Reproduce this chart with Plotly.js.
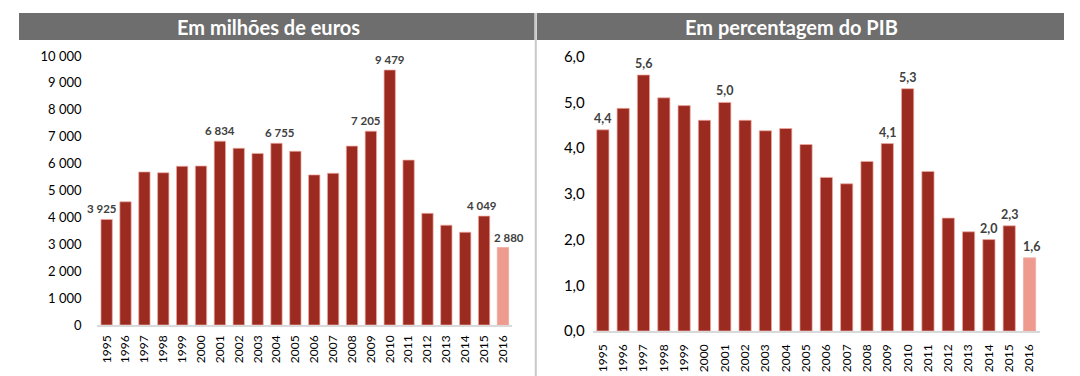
<!DOCTYPE html>
<html>
<head>
<meta charset="utf-8">
<script src="https://cdn.plot.ly/plotly-3.0.1.min.js"></script>
<style>html,body{margin:0;padding:0;background:#fff;}#chart{width:1080px;height:376px;}</style>
</head>
<body>
<div id="chart"></div>
<script>
const years = ['1995','1996','1997','1998','1999','2000','2001','2002','2003','2004','2005','2006','2007','2008','2009','2010','2011','2012','2013','2014','2015','2016'];
const eurosMillions = [3925,4580,5690,5660,5900,5910,6834,6570,6380,6755,6460,5580,5640,6650,7205,9479,6130,4150,3710,3450,4049,2880];
const pctGDP = [4.4,4.87,5.6,5.10,4.93,4.61,5.0,4.61,4.38,4.43,4.08,3.36,3.22,3.71,4.1,5.3,3.49,2.47,2.17,2.0,2.3,1.6];
const eurosLabels = ['3 925','','','','','','6 834','','','6 755','','','','','7 205','9 479','','','','','4 049','2 880'];
const pctLabels = ['4,4','','5,6','','','','5,0','','','','','','','','4,1','5,3','','','','2,0','2,3','1,6'];
const titleLeft = 'Em milhões de euros';
const titleRight = 'Em percentagem do PIB';

const dark = '#9b2b20';
const light = '#ee9a8f';
const colors = years.map((y, i) => i === years.length - 1 ? light : dark);
const FONT = 'Lato, "Open Sans", sans-serif';

// horizontal nudges of a few value labels (pixels), as in the original layout
const leftNudge = {'1995': -5, '2004': 4, '2009': -5, '2015': -2, '2016': 6};
const rightNudge = {'2016': 1.5};

function barTrace(vals, xa, ya) {
  return {
    type: 'bar', x: years, y: vals, xaxis: xa, yaxis: ya,
    width: 0.6,
    marker: {color: colors, line: {color: 'rgba(240,170,160,0.9)', width: 0.8}},
    hoverinfo: 'x+y', showlegend: false
  };
}

function labelAnnotations(vals, labels, xa, ya, size, nudge, lift) {
  const out = [];
  labels.forEach((t, i) => {
    if (!t) return;
    out.push({
      xref: xa, yref: ya, x: i, y: vals[i], text: t, showarrow: false,
      xanchor: 'center', yanchor: 'bottom', xshift: nudge[years[i]] || 0, yshift: lift,
      font: {family: FONT, size: size, color: '#404040', weight: 'bold'}
    });
  });
  return out;
}

const data = [
  barTrace(eurosMillions, 'x', 'y'),
  barTrace(pctGDP, 'x2', 'y2')
];

const W = 1080, H = 376;
const px = v => v / W, py = v => 1 - v / H;

const xBase = {
  type: 'category', showgrid: false, zeroline: false,
  categoryorder: 'array', categoryarray: years, range: [-0.5, years.length - 0.5],
  showline: true, linecolor: '#d9d9d9', linewidth: 1.5,
  tickangle: -90, ticks: 'outside', tickcolor: 'rgba(0,0,0,0)', ticklen: 4,
  tickfont: {family: FONT, size: 12, color: '#000'}, fixedrange: true
};

const layout = {
  width: W, height: H,
  margin: {l: 0, r: 0, t: 0, b: 0},
  paper_bgcolor: '#fff', plot_bgcolor: '#fff',
  separators: ', ',
  bargap: 0.4,
  xaxis: Object.assign({}, xBase, {domain: [px(97.2), px(512.4)], anchor: 'y'}),
  yaxis: {
    domain: [py(325), py(56)], range: [0, 10000], anchor: 'x',
    tickvals: [0,1000,2000,3000,4000,5000,6000,7000,8000,9000,10000],
    tickformat: ',d', showgrid: false, zeroline: false, showline: false,
    ticks: 'outside', tickcolor: 'rgba(0,0,0,0)', ticklen: 12,
    tickfont: {family: FONT, size: 13, color: '#000'}, fixedrange: true
  },
  xaxis2: Object.assign({}, xBase, {domain: [px(592.7), px(1039.7)], anchor: 'y2', ticklen: 7}),
  yaxis2: {
    domain: [py(331), py(56.7)], range: [0, 6], anchor: 'x2',
    tickvals: [0,1,2,3,4,5,6], tickformat: '.1f',
    showgrid: false, zeroline: false, showline: false,
    ticks: 'outside', tickcolor: 'rgba(0,0,0,0)', ticklen: 4,
    tickfont: {family: FONT, size: 15, color: '#000'}, fixedrange: true
  },
  shapes: [
    {type: 'rect', xref: 'paper', yref: 'paper', x0: px(19), x1: px(534.5), y0: py(40), y1: py(13), fillcolor: '#6e6e6e', line: {width: 0}, layer: 'below'},
    {type: 'rect', xref: 'paper', yref: 'paper', x0: px(537), x1: px(1064), y0: py(40), y1: py(13), fillcolor: '#6e6e6e', line: {width: 0}, layer: 'below'},
    {type: 'line', xref: 'paper', yref: 'paper', x0: px(535.8), x1: px(535.8), y0: py(13), y1: 0, line: {color: '#c8c8c8', width: 2}}
  ],
  annotations: [
    {xref: 'paper', yref: 'paper', x: px(268), y: py(26.5), text: '<b>' + titleLeft + '</b>', showarrow: false, xanchor: 'center', yanchor: 'middle',
     font: {family: FONT, size: 20, color: '#fff', weight: 900}},
    {xref: 'paper', yref: 'paper', x: px(791.5), y: py(26.5), text: '<b>' + titleRight + '</b>', showarrow: false, xanchor: 'center', yanchor: 'middle',
     font: {family: FONT, size: 20, color: '#fff', weight: 900}}
  ].concat(
    labelAnnotations(eurosMillions, eurosLabels, 'x', 'y', 11.5, leftNudge, 2),
    labelAnnotations(pctGDP, pctLabels, 'x2', 'y2', 12.5, rightNudge, 2)
  )
};

Plotly.newPlot('chart', data, layout, {displayModeBar: false, staticPlot: true});
</script>
</body>
</html>
